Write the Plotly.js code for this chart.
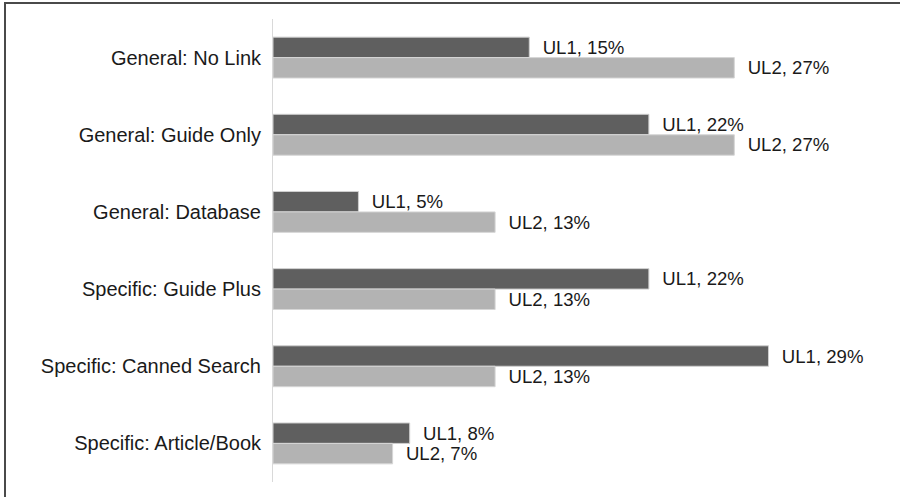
<!DOCTYPE html>
<html>
<head>
<meta charset="utf-8">
<script src="https://cdn.plot.ly/plotly-3.0.1.min.js"></script>
<style>
  html, body { margin: 0; padding: 0; background: #fff; }
  #chart { position: absolute; left: 0; top: 0; width: 900px; height: 497px; }
  .bt { position: absolute; left: 4px; top: 2px; width: 896px; height: 2px; background: #4a4a4a; }
  .bl { position: absolute; left: 4px; top: 2px; width: 2px; height: 495px; background: #4a4a4a; }
</style>
</head>
<body>
<div id="chart"></div>
<div class="bt"></div>
<div class="bl"></div>
<script>
const categories = ["General: No Link", "General: Guide Only", "General: Database",
                    "Specific: Guide Plus", "Specific: Canned Search", "Specific: Article/Book"];
const ul1Values = [15, 22, 5, 22, 29, 8];
const ul2Values = [27, 27, 13, 13, 13, 7];
const seriesNames = ["UL1", "UL2"];

const font = "Liberation Sans, Arial, sans-serif";

const traces = [
  {
    type: "bar", orientation: "h", name: seriesNames[0],
    y: categories, x: ul1Values,
    marker: { color: "#5f5f5f", line: { color: "#cfcfcf", width: 1 } },
    text: ul1Values.map(v => "\u00a0\u00a0" + seriesNames[0] + ", " + v + "%"),
    textposition: "outside", cliponaxis: false,
    textfont: { family: font, size: 20, color: "#1a1a1a" },
    hoverinfo: "skip"
  },
  {
    type: "bar", orientation: "h", name: seriesNames[1],
    y: categories, x: ul2Values,
    marker: { color: "#b3b3b3", line: { color: "#d6d6d6", width: 1 } },
    text: ul2Values.map(v => "\u00a0\u00a0" + seriesNames[1] + ", " + v + "%"),
    textposition: "outside", cliponaxis: false,
    textfont: { family: font, size: 20, color: "#1a1a1a" },
    hoverinfo: "skip"
  }
];

const layout = {
  width: 900, height: 497,
  margin: { l: 273, r: 29, t: 19, b: 15 },
  paper_bgcolor: "#fff", plot_bgcolor: "#fff",
  showlegend: false,
  barmode: "group", bargap: 0.47, bargroupgap: 0,
  font: { family: font, size: 20, color: "#1a1a1a" },
  xaxis: { range: [0, 35], showgrid: false, zeroline: false, showticklabels: false, showline: false, ticks: "" },
  yaxis: {
    autorange: "reversed", type: "category",
    showline: true, linecolor: "#d9d9d9", linewidth: 1,
    showgrid: false, ticks: "outside", ticklen: 7, tickcolor: "rgba(0,0,0,0)",
    tickfont: { family: font, size: 20, color: "#1a1a1a" }
  }
};

Plotly.newPlot("chart", traces, layout, { staticPlot: true, displayModeBar: false });
</script>
</body>
</html>
